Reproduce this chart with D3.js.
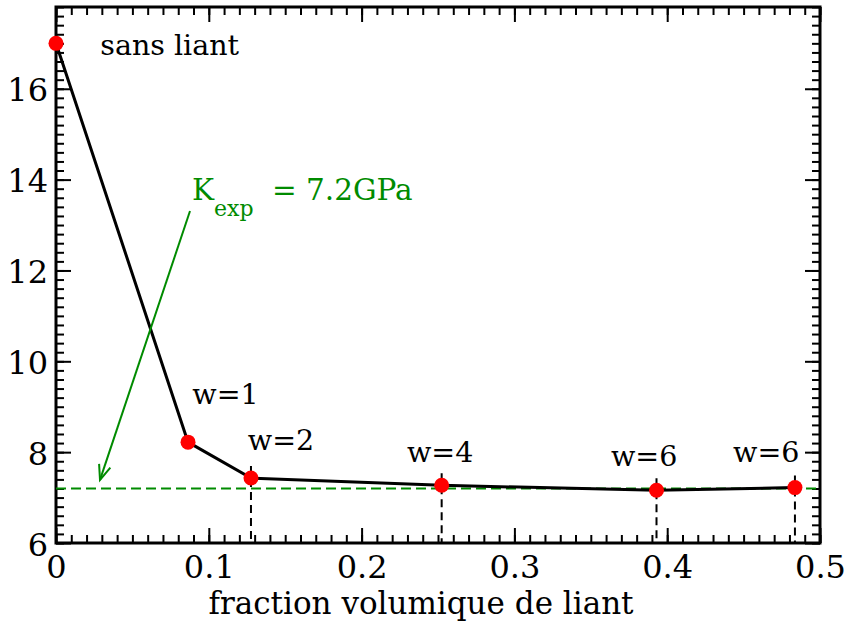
<!DOCTYPE html>
<html>
<head>
<meta charset="utf-8">
<script src="https://cdn.jsdelivr.net/npm/d3@7"></script>
<style>
html,body{margin:0;padding:0;background:#fff;}
svg{display:block;}
</style>
</head>
<body>
<svg id="chart" width="849" height="629"></svg>
<script>
// ---- data ----
const fractions = [0, 0.0864, 0.1276, 0.2524, 0.393, 0.4836];
const moduli = [17.0, 8.22, 7.43, 7.27, 7.16, 7.22];
const pointLabels = ["sans liant", "w=1", "w=2", "w=4", "w=6", "w=6"];
const labelX = [0.029, 0.0892, 0.1255, 0.2297, 0.3632, 0.4431];
const labelY = [16.75, 9.07, 8.05, 7.79, 7.70, 7.79];
const dropIndices = [2, 3, 4, 5];
const kExp = 7.2;
const arrowFrom = [0.0877, 13.31];
const arrowTo = [0.0288, 7.39];
const xTicks = [0, 0.1, 0.2, 0.3, 0.4, 0.5];
const yTicks = [6, 8, 10, 12, 14, 16];
const xTitle = "fraction volumique de liant";

// ---- layout ----
const FONT = "'DejaVu Serif', serif";
const FS = 32, FST = 31, FSL = 28.5;
const svg = d3.select("#chart");
const L = 56, R = 820, T = 7, B = 543;
const x = d3.scaleLinear().domain([0, 0.5]).range([L, R]);
const y = d3.scaleLinear().domain([6, 17.8]).range([B, T]);
const green = "#008b00";

const xMinor = d3.range(0, 0.5001, 0.01).map(v => +v.toFixed(3));
const yMinor = d3.range(6, 17.81, 0.2).map(v => +v.toFixed(2));

// ---- axes (ticks inward, all four sides) ----
function axisGroup(gen, tx, ty) {
  const g = svg.append("g").attr("transform", `translate(${tx},${ty})`).call(gen)
    .attr("font-family", FONT);
  g.select(".domain").remove();
  g.selectAll("line").attr("stroke", "#000").attr("stroke-width", 2);
  return g;
}
// bottom
axisGroup(d3.axisBottom(x).tickValues(xMinor).tickSize(-8).tickFormat(""), 0, B);
const gxb = axisGroup(d3.axisBottom(x).tickValues(xTicks).tickSize(-15).tickPadding(0)
  .tickFormat(d => d === 0 ? "0" : d3.format(".1f")(d)), 0, B);
gxb.selectAll("text").attr("font-size", FS).attr("fill", "#000")
  .style("font-family", FONT).attr("dy", null).attr("y", 35);
// top
axisGroup(d3.axisTop(x).tickValues(xMinor).tickSize(-8).tickFormat(""), 0, T);
axisGroup(d3.axisTop(x).tickValues(xTicks).tickSize(-15).tickFormat(""), 0, T);
// left
axisGroup(d3.axisLeft(y).tickValues(yMinor).tickSize(-8).tickFormat(""), L, 0);
const gyl = axisGroup(d3.axisLeft(y).tickValues(yTicks).tickSize(-15).tickFormat(d3.format("d")), L, 0);
gyl.selectAll("text").attr("font-size", FS).attr("fill", "#000")
  .style("font-family", FONT).attr("x", -8).attr("dy", "0.38em");
// right
axisGroup(d3.axisRight(y).tickValues(yMinor).tickSize(-8).tickFormat(""), R, 0);
axisGroup(d3.axisRight(y).tickValues(yTicks).tickSize(-15).tickFormat(""), R, 0);

// frame
svg.append("rect").attr("x", L).attr("y", T).attr("width", R - L).attr("height", B - T)
  .attr("fill", "none").attr("stroke", "#000").attr("stroke-width", 3);

// ---- reference line K_exp ----
svg.append("line").attr("x1", x(0)).attr("x2", x(0.5)).attr("y1", y(kExp)).attr("y2", y(kExp))
  .attr("stroke", green).attr("stroke-width", 2).attr("stroke-dasharray", "10,5");

// ---- vertical drop lines ----
svg.append("g").selectAll("line").data(dropIndices).join("line")
  .attr("x1", i => x(fractions[i])).attr("x2", i => x(fractions[i]))
  .attr("y1", i => y(moduli[i]) - 12).attr("y2", B)
  .attr("stroke", "#000").attr("stroke-width", 2).attr("stroke-dasharray", "8,5");

// ---- data line ----
const pts = fractions.map((f, i) => [f, moduli[i]]);
svg.append("path").datum(pts)
  .attr("d", d3.line().x(d => x(d[0])).y(d => y(d[1])))
  .attr("fill", "none").attr("stroke", "#000").attr("stroke-width", 3);

svg.append("g").selectAll("circle").data(pts).join("circle")
  .attr("cx", d => x(d[0])).attr("cy", d => y(d[1])).attr("r", 7.5).attr("fill", "#ff0000");

// ---- point labels ----
svg.append("g").selectAll("text").data(pointLabels).join("text")
  .attr("x", (d, i) => x(labelX[i])).attr("y", (d, i) => y(labelY[i]))
  .attr("font-size", FSL).attr("fill", "#000").style("font-family", FONT).text(d => d);

// ---- K_exp annotation ----
const kt = svg.append("text").attr("x", 192).attr("y", 200).attr("fill", green)
  .attr("font-size", 29.5).style("font-family", FONT);
kt.append("tspan").text("K");
kt.append("tspan").attr("font-size", 22).attr("dy", 16).text("exp");
kt.append("tspan").attr("dy", -16).attr("x", 272).text("= 7.2GPa");

// arrow
const ax1 = x(arrowFrom[0]), ay1 = y(arrowFrom[1]), ax2 = x(arrowTo[0]), ay2 = y(arrowTo[1]);
svg.append("line").attr("x1", ax1).attr("y1", ay1).attr("x2", ax2).attr("y2", ay2)
  .attr("stroke", green).attr("stroke-width", 2);
const ang = Math.atan2(ay2 - ay1, ax2 - ax1);
const hl = 16, ha = 0.38;
const head = [
  [ax2 - hl * Math.cos(ang - ha), ay2 - hl * Math.sin(ang - ha)],
  [ax2, ay2],
  [ax2 - hl * Math.cos(ang + ha), ay2 - hl * Math.sin(ang + ha)]
];
svg.append("path").attr("d", d3.line()(head)).attr("fill", "none")
  .attr("stroke", green).attr("stroke-width", 2);

// ---- axis title ----
svg.append("text").attr("x", 421).attr("y", 614).attr("text-anchor", "middle")
  .attr("font-size", FST).attr("fill", "#000").style("font-family", FONT).text(xTitle);
</script>
</body>
</html>
